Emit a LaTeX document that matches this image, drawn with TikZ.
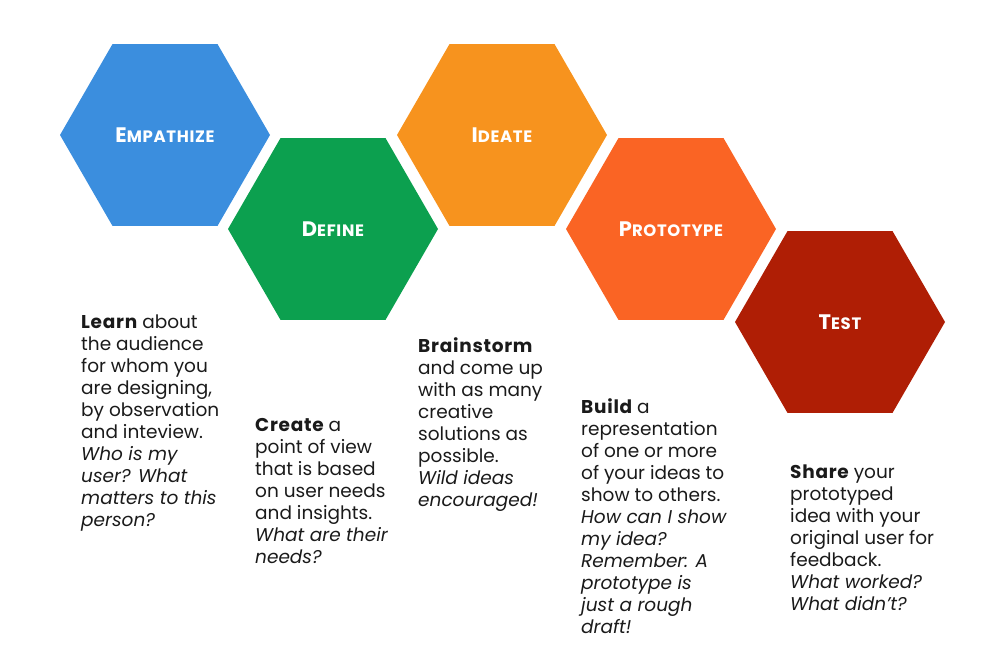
\documentclass[tikz,border=0pt]{standalone}
\usepackage{fontspec}
\setmainfont{Poppins}
\usepackage{tikz}
\usetikzlibrary{shapes.geometric}
\definecolor{empathize}{HTML}{3B8EDE}
\definecolor{define}{HTML}{0CA04F}
\definecolor{ideate}{HTML}{F7931E}
\definecolor{prototype}{HTML}{FA6424}
\definecolor{test}{HTML}{AF1E05}
\definecolor{ink}{HTML}{1A1A1A}
\newcommand{\hexlabel}[2]{{\fontsize{21}{21}\selectfont #1}{\fontsize{16.5}{16.5}\selectfont #2}}
\newcommand{\leadword}[1]{{\bfseries\addfontfeatures{LetterSpace=4}#1}}

\begin{document}
\begin{tikzpicture}[x=1pt, y=-1pt,
    hexa/.style={regular polygon, regular polygon sides=6, minimum size=210pt, inner sep=0pt, text=white, font=\bfseries\addfontfeatures{LetterSpace=4}},
    blurb/.style={anchor=north west, align=left, inner sep=0pt, text=ink, font=\fontsize{18.5}{22}\selectfont}
]
\useasboundingbox (0,0) rectangle (1001,671);
% the five stages
\node[hexa, fill=empathize] (emp) at (165,135) {\hexlabel{E}{MPATHIZE}};
\node[hexa, fill=define] (def) at (333,229) {\hexlabel{D}{EFINE}};
\node[hexa, fill=ideate] (ide) at (502,135) {\hexlabel{I}{DEATE}};
\node[hexa, fill=prototype] (pro) at (671,229) {\hexlabel{P}{ROTOTYPE}};
\node[hexa, fill=test] (tst) at (840,322) {\hexlabel{T}{EST}};
% descriptions
\node[blurb] (learn) at (81,315) {\leadword{Learn} about\\the audience\\for whom you\\are designing,\\by observation\\and inteview.\\\itshape Who is my\\\itshape user? What\\\itshape matters to this\\\itshape person?};
\node[blurb] (create) at (255,418) {\leadword{Create} a\\point of view\\that is based\\on user needs\\and insights.\\\itshape What are their\\\itshape needs?};
\node[blurb] (brain) at (418,337) {\leadword{Brainstorm}\\and come up\\with as many\\creative\\solutions as\\possible.\\\itshape Wild ideas\\\itshape encouraged!};
\node[blurb] (build) at (581,398) {\leadword{Build} a\\representation\\of one or more\\of your ideas to\\show to others.\\\itshape How can I show\\\itshape my idea?\\\itshape Remember: A\\\itshape prototype is\\\itshape just a rough\\\itshape draft!};
\node[blurb] (share) at (790,465) {\leadword{Share} your\\prototyped\\idea with your\\original user for\\feedback.\\\itshape What worked?\\\itshape What didn’t?};
\end{tikzpicture}
\end{document}
